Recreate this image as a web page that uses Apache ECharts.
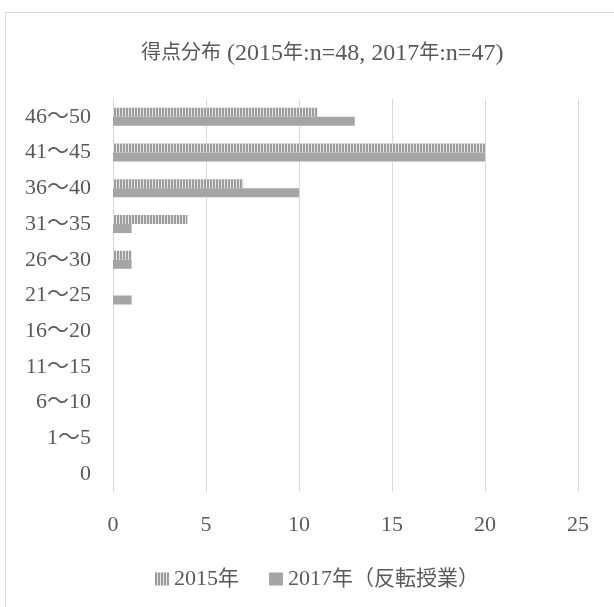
<!DOCTYPE html>
<html><head><meta charset="utf-8">
<script src="https://cdn.jsdelivr.net/npm/echarts@6/dist/echarts.min.js"></script>
<style>html,body{margin:0;padding:0;background:#fff;}#frame{position:absolute;left:5px;top:12px;width:620px;height:610px;border:1px solid #d9d9d9;box-sizing:border-box;}#c{position:absolute;left:0;top:0;width:614px;height:607px;}</style>
</head><body><div id="frame"></div><div id="c"></div>
<script>
const categories = ['0','1～5','6～10','11～15','16～20','21～25','26～30','31～35','36～40','41～45','46～50'];
const series2015 = [0,0,0,0,0,0,1,4,7,20,11];
const series2017 = [0,0,0,0,0,1,1,1,10,20,13];
const seriesNames = ['2015年','2017年（反転授業）'];
const xTicks = [0,5,10,15,20,25];
const titleText = '得点分布 (2015年:n=48, 2017年:n=47)';

const font = '"Liberation Serif","DejaVu Serif","Noto Sans CJK JP",serif';
const txt = '#595959';

// split text into rich runs: CJK / full-width vs Latin
function richify(s){
  let out = '', cur = '', curType = null;
  for (const ch of s){
    const t = /[\u3000-\u9fff\uff00-\uffef]/.test(ch) && ch !== '～' ? 'c' : 'n';
    if (t !== curType && cur){ out += '{' + curType + '|' + cur + '}'; cur = ''; }
    curType = t; cur += ch;
  }
  if (cur) out += '{' + curType + '|' + cur + '}';
  return out;
}

function stripe(){
  const cv = document.createElement('canvas');
  cv.width = 3; cv.height = 10;
  const g = cv.getContext('2d');
  g.fillStyle = '#e4e4e4'; g.fillRect(0,0,3,10);
  g.fillStyle = '#9c9c9c'; g.fillRect(0,0,2,10);
  return {image: cv, repeat: 'repeat'};
}
const pat = stripe();

const chart = echarts.init(document.getElementById('c'));
chart.setOption({
  animation:false,
  backgroundColor:'transparent',
  title:{text:richify(titleText),left:136,top:37,
    textStyle:{fontFamily:font,fontSize:22,fontWeight:'normal',color:txt,
      rich:{c:{fontFamily:font,fontSize:20,color:txt},n:{fontFamily:font,fontSize:24,color:txt}}}},
  grid:{left:113,right:36,top:99,bottom:115,containLabel:false},
  legend:{bottom:12,left:150,itemWidth:14,itemHeight:13,itemGap:30,
    formatter:function(name){return richify(name);},
    textStyle:{fontFamily:font,fontSize:22,color:txt,
      rich:{c:{fontFamily:font,fontSize:21,color:txt},n:{fontFamily:font,fontSize:22,color:txt}}},
    data:[{name:seriesNames[0],icon:'rect'},{name:seriesNames[1],icon:'rect'}]},
  xAxis:{type:'value',min:0,max:25,interval:5,
    axisLine:{show:false},axisTick:{show:false},
    splitLine:{lineStyle:{color:'#d9d9d9',width:1}},
    axisLabel:{fontFamily:font,fontSize:22,color:txt,margin:22}},
  yAxis:{type:'category',data:categories,
    axisLine:{show:true,lineStyle:{color:'#d9d9d9'}},axisTick:{show:false},
    axisLabel:{fontFamily:font,fontSize:22,color:txt,margin:22}},
  series:[
    {name:seriesNames[0],type:'bar',data:series2015,barWidth:9,barGap:'0%',itemStyle:{color:pat}},
    {name:seriesNames[1],type:'bar',data:series2017,barWidth:9,barGap:'0%',itemStyle:{color:'#a5a5a5'}}
  ]
});
</script></body></html>
